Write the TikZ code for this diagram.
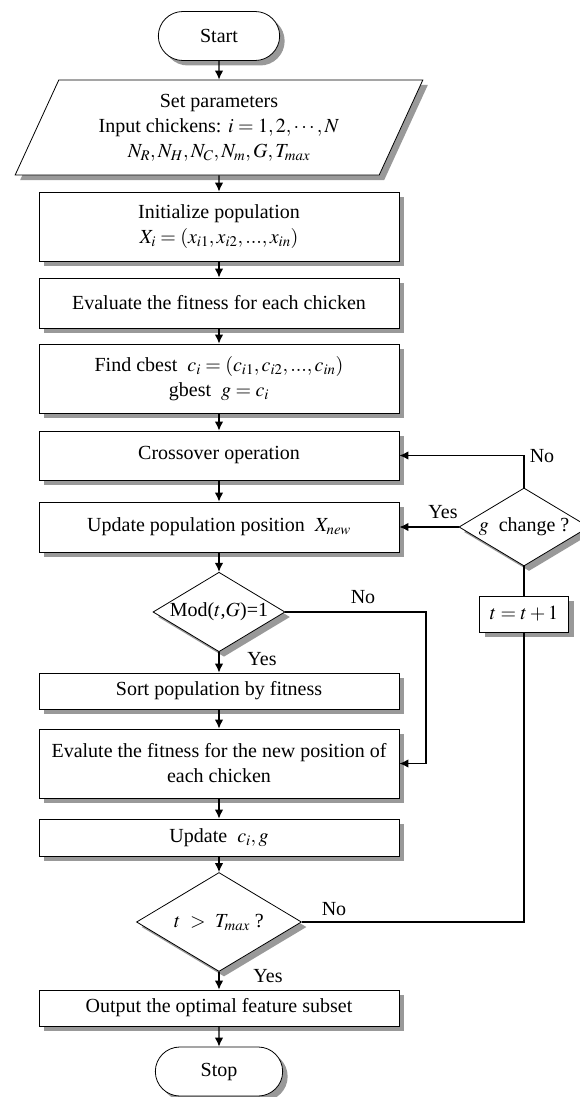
\documentclass[tikz,border=0pt]{standalone}
\usepackage{mathptmx}
\usepackage{fontspec}
\setmainfont{Liberation Serif}
\usetikzlibrary{shapes.geometric,shapes.misc,shadows,arrows.meta}
\tikzset{boxshadow/.style={
        drop shadow={shadow xshift=5pt,shadow yshift=-5pt,fill=gray!80,opacity=1}
    },
    every node/.style={font=\fontsize{20}{25}\selectfont},
    procbox/.style={rectangle,draw,fill=white,line width=.8pt,boxshadow,
        minimum width=360pt,align=center,inner sep=1pt},
    termbox/.style={rounded rectangle,draw,fill=white,line width=.8pt,boxshadow,
        minimum width=128pt,minimum height=49pt},
    iobox/.style={trapezium,trapezium left angle=64,trapezium right angle=116,
        trapezium stretches=true,draw,fill=white,line width=.8pt,boxshadow,
        minimum width=408pt,minimum height=95pt,align=center,inner sep=0pt},
    testbox/.style={diamond,draw,fill=white,line width=.8pt,boxshadow,
        inner sep=0pt,shape aspect=1.6},
    flow/.style={line width=1.3pt,-{Latex[length=9pt,width=8.5pt]}},
    link/.style={line width=1.3pt}
}

\begin{document}
\begin{tikzpicture}[x=1pt,y=-1pt]
        \useasboundingbox (0,0) rectangle (580,1097);
        \node[termbox] (start) at (219,36) {Start};
        \node[iobox] (param) at (219,127.5) {Set parameters\\
            Input chickens: $i=1,2,\cdots,N$\\
            $N_R,N_H,N_C,N_m,G,T_{max}$};
        \node[procbox,minimum height=69pt] (init) at (219,226.5) {Initialize population\\
            $X_i=\left(x_{i1},x_{i2},...,x_{in}\right)$};
        \node[procbox,minimum height=50pt] (eval) at (219,303) {Evaluate the fitness for each chicken};
        \node[procbox,minimum height=69pt] (find) at (219,378.5) {Find cbest\ \ $c_i=\left(c_{i1},c_{i2},...,c_{in}\right)$\\
            gbest\ \ $g=c_i$};
        \node[procbox,minimum height=49pt] (cross) at (219,455.5) {Crossover operation};
        \node[procbox,minimum height=50pt] (update) at (219,527) {Update population position\ \ $X_{new}$};
        \node[testbox,minimum width=132pt,minimum height=79pt] (mod) at (219,612) {Mod($t$,$G$)=1};
        \node[procbox,minimum height=36pt] (sort) at (219,691) {Sort population by fitness};
        \node[procbox,minimum height=69pt] (evalnew) at (219,763.5) {Evalute the fitness for the new position of\\
            each chicken};
        \node[procbox,minimum height=37pt] (upd) at (219,837.5) {Update\ \ $c_i,g$};
        \node[testbox,minimum width=165pt,minimum height=99pt] (tmax) at (219,922) {$t\ >\ T_{max}$ ?};
        \node[procbox,minimum height=36pt] (output) at (219,1008) {Output the optimal feature subset};
        \node[termbox,minimum width=134pt] (stop) at (219,1071.5) {Stop};
        \node[testbox,minimum width=130pt,minimum height=78pt] (gchg) at (524,527) {$g$\ \ change ?};
        \node[procbox,minimum width=89pt,minimum height=36pt] (tinc) at (524,614) {$t=t+1$};
        \coordinate (bend) at (426,763.5);

        \draw[flow] (start) -- (param);
        \draw[flow] (param) -- (init);
        \draw[flow] (init) -- (eval);
        \draw[flow] (eval) -- (find);
        \draw[flow] (find) -- (cross);
        \draw[flow] (cross) -- (update);
        \draw[flow] (update) -- (mod);
        \draw[flow] (mod) -- (sort);
        \draw[flow] (sort) -- (evalnew);
        \draw[flow] (evalnew) -- (upd);
        \draw[flow] (upd) -- (tmax);
        \draw[flow] (tmax) -- (output);
        \draw[flow] (output) -- (stop);
        \draw[link] (mod.east) -| (bend);
        \draw[flow] (bend) -- (evalnew.east);
        \draw[link] (tmax.east) -| (tinc.south);
        \draw[link] (tinc.north) -- (gchg.south);
        \draw[flow] (gchg.north) |- (cross.east);
        \draw[flow] (gchg.west) -- (update.east);

        \node (modno) at (363,597) {No};
        \node (modyes) at (262,659) {Yes};
        \node (tmaxno) at (334,909) {No};
        \node (tmaxyes) at (268,976) {Yes};
        \node (gchgno) at (542,456) {No};
        \node (gchgyes) at (443,512) {Yes};
    \end{tikzpicture}
\end{document}
